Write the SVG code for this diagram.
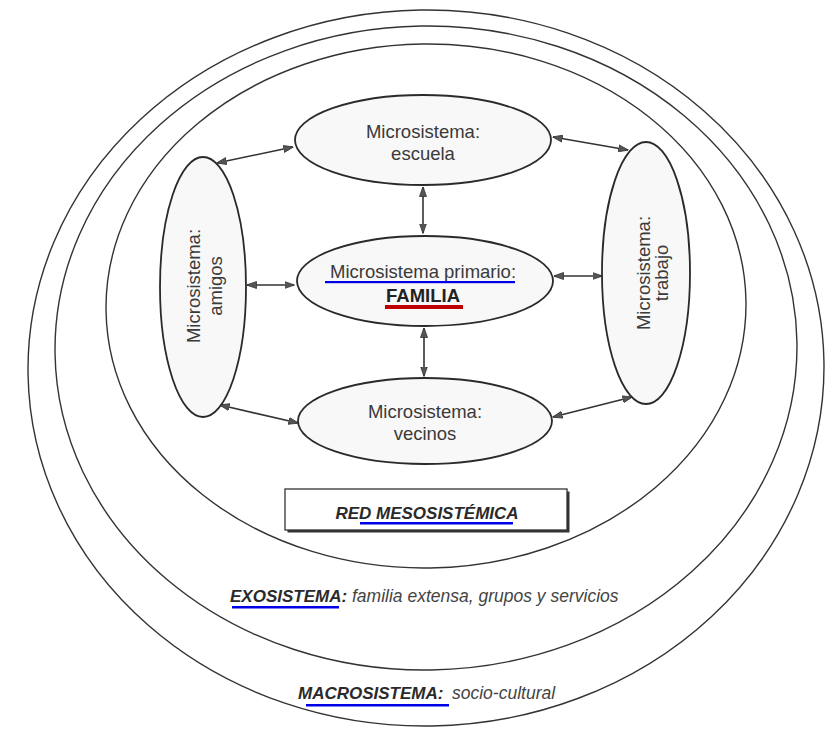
<svg xmlns="http://www.w3.org/2000/svg" width="827" height="732" viewBox="0 0 827 732">
<defs>
<marker id="ah" viewBox="0 0 10 8" refX="9.5" refY="4" markerWidth="10" markerHeight="8" markerUnits="userSpaceOnUse" orient="auto-start-reverse">
<path d="M0,0.5 L10,4 L0,7.5 z" fill="#555" stroke="#333" stroke-width="0.8"/>
</marker>
</defs>
<style>
.ring{fill:none;stroke:#333;stroke-width:1.4}
.node{fill:#f8f8f8;stroke:#2a2a2a;stroke-width:1.8}
.t{font-family:"Liberation Sans",Arial,sans-serif;font-size:18.5px;fill:#3a3a3a;text-anchor:middle}
.b{font-weight:bold;fill:#222}
.bi{font-family:"Liberation Sans",Arial,sans-serif;font-weight:bold;font-style:italic;fill:#2a2a2a;font-size:17px}
.i{font-family:"Liberation Sans",Arial,sans-serif;font-style:italic;fill:#444;font-size:17.5px}
.conn{stroke:#333;stroke-width:1.6;fill:none;marker-start:url(#ah);marker-end:url(#ah)}
.ublue{fill:#0000e6}
</style>
<rect width="827" height="732" fill="#ffffff"/>
<g id="macrosistema">
<ellipse class="ring" cx="426" cy="368" rx="398" ry="358" transform="rotate(-0.9 426 368)"/>
<text x="298" y="699" class="bi" font-size="17.4px">MACROSISTEMA:</text>
<text x="452" y="699" class="i" font-size="18.5px">socio-cultural</text>
<rect class="ublue" x="306" y="704" width="143" height="2.5"/>
</g>
<g id="exosistema">
<ellipse class="ring" cx="426" cy="348" rx="371" ry="322" transform="rotate(-0.9 426 348)"/>
<text x="230" y="602" class="bi">EXOSISTEMA:</text>
<text x="352" y="602" class="i" font-size="17.8px">familia extensa, grupos y servicios</text>
<rect class="ublue" x="232" y="606" width="107" height="2.5"/>
</g>
<g id="mesosistema">
<ellipse class="ring" cx="426" cy="306" rx="320" ry="262" transform="rotate(-0.9 426 306)"/>
<rect x="287.5" y="491.5" width="282" height="41" fill="#333"/>
<rect x="285" y="489" width="282" height="41" fill="#fff" stroke="#333" stroke-width="1.3"/>
<text x="427" y="519" class="bi" text-anchor="middle">RED MESOSISTÉMICA</text>
<rect class="ublue" x="360" y="522" width="153" height="2.5"/>
</g>
<g id="connectors">
<line class="conn" x1="217" y1="163" x2="293" y2="147"/>
<line class="conn" x1="553" y1="137" x2="628" y2="150"/>
<line class="conn" x1="423" y1="187" x2="423" y2="233"/>
<line class="conn" x1="247" y1="285" x2="294" y2="285"/>
<line class="conn" x1="554" y1="276" x2="602" y2="276"/>
<line class="conn" x1="424" y1="328" x2="424" y2="376"/>
<line class="conn" x1="220" y1="405" x2="298" y2="423"/>
<line class="conn" x1="553" y1="417" x2="632" y2="397"/>
</g>
<g id="escuela">
<ellipse class="node" cx="423" cy="140" rx="128" ry="45"/>
<text x="423" y="138" class="t">Microsistema:</text>
<text x="423" y="160" class="t">escuela</text>
</g>
<g id="familia">
<ellipse class="node" cx="425" cy="281" rx="128" ry="45"/>
<text x="423" y="278" class="t">Microsistema primario:</text>
<rect class="ublue" x="325" y="281" width="190" height="2.2"/>
<text x="423" y="302" class="t b">FAMILIA</text>
<rect x="385" y="305" width="78" height="4" fill="#c00000"/>
</g>
<g id="vecinos">
<ellipse class="node" cx="425" cy="421" rx="127" ry="43"/>
<text x="425" y="418" class="t">Microsistema:</text>
<text x="425" y="440" class="t">vecinos</text>
</g>
<g id="amigos">
<ellipse class="node" cx="203" cy="287" rx="43" ry="130"/>
<g transform="translate(203,286) rotate(-90)">
<text x="0" y="-3" class="t">Microsistema:</text>
<text x="0" y="19" class="t">amigos</text>
</g>
</g>
<g id="trabajo">
<ellipse class="node" cx="646" cy="273" rx="44" ry="131"/>
<g transform="translate(646,273) rotate(-90)">
<text x="0" y="4" class="t">Microsistema:</text>
<text x="0" y="22" class="t">trabajo</text>
</g>
</g>
</svg>
